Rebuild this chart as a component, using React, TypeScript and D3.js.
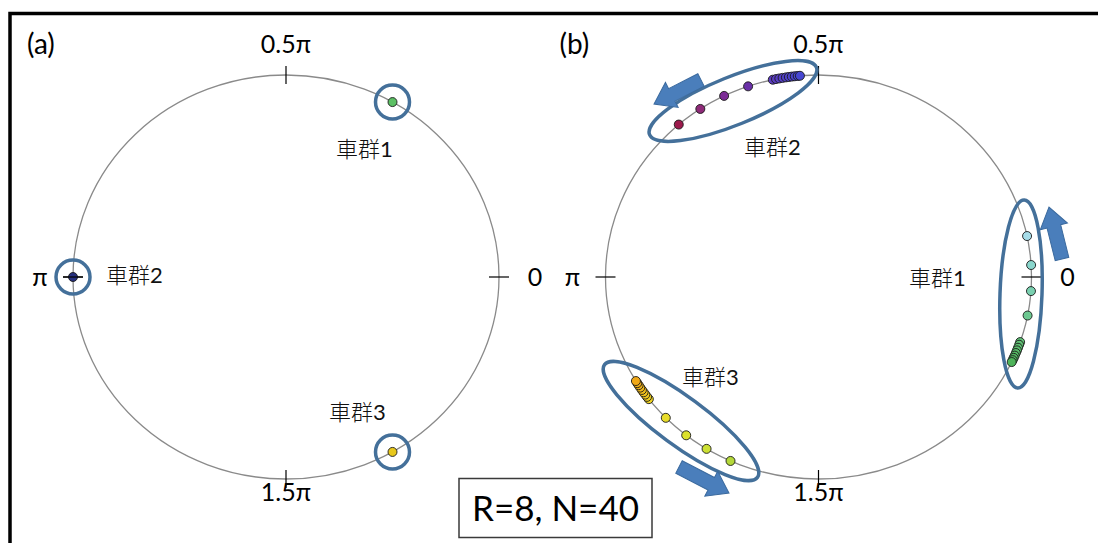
import * as d3 from 'd3';
import { useEffect, useRef } from 'react';

// tick angles (units of pi) and their labels
const tickAngles = [0, 0.5, 1, 1.5];
const tickLabels = ['0', '0.5π', 'π', '1.5π'];

const groupNames = ['車群1', '車群2', '車群3'];

// (a) initial state: one car group at each angle (units of pi)
const initAngles = [1 / 3, 1, 5 / 3];
const initColors = ['#5cc064', '#26307e', '#e8c81c'];

// (b) car positions in degrees, leading car first
const group1Deg = [11.7, 3.4, -4, -11, -18.8, -19.6, -20.5, -21.3, -22.1, -22.9, -23.6, -24.3, -24.9];
const group2Deg = [131, 123.7, 116.3, 109.3, 102.4, 101.5, 100.6, 99.7, 98.8, 98, 97.2, 96.4, 95.6, 95];
const group3Deg = [245.6, 238.3, 231.6, 224.2, 217.2, 216.4, 215.6, 214.8, 214, 213.2, 212.4, 211.7, 211];

const group1Spread = ['#a6dce8', '#8ad6cc', '#7ad0b0', '#6cc890'];
const group2Spread = ['#9c1a4c', '#8e2a78', '#7c2c96', '#6a30a8'];
const group3Spread = ['#b4d83a', '#cce034', '#dce02c', '#e8dc2a'];
const clusterEnds = [['#62c278', '#4eb45a'], ['#5c3cc0', '#4646d2'], ['#f0d420', '#f0a818']];

const noteText = 'R=8, N=40';

const FONT = 'Lato, "Open Sans", sans-serif';
const CJK = '"Noto Sans CJK JP", sans-serif';
const RING = '#44709a';

export default function App() {
  const svgRef = useRef<SVGSVGElement>(null);

  useEffect(() => {
    drawChart(svgRef.current!);
  }, [svgRef]);

  return (
    <div style={{ position: 'absolute', left: 0, top: 0 }}>
      <svg ref={svgRef}></svg>
    </div>
  );
}

function drawChart(el: SVGSVGElement) {
  const w = 1098;
  const h = 543;
  const svg = d3.select(el).attr('width', w).attr('height', h);
  svg.selectAll('*').remove();
  svg.append('rect').attr('width', w).attr('height', h).attr('fill', '#fff');

  // outer frame
  svg.append('rect')
    .attr('x', 10).attr('y', 13.5).attr('width', 1100).attr('height', 600)
    .attr('fill', 'none').attr('stroke', '#000').attr('stroke-width', 3.5);

  const cy = 277, rx = 213, ry = 202;

  const panel = (cx: number, tag: string) => {
    const x = d3.scaleLinear().domain([-1, 1]).range([cx - rx, cx + rx]);
    const y = d3.scaleLinear().domain([-1, 1]).range([cy + ry, cy - ry]);
    const g = svg.append('g');

    g.append('ellipse')
      .attr('cx', x(0)).attr('cy', y(0)).attr('rx', rx).attr('ry', ry)
      .attr('fill', 'none').attr('stroke', '#8a8a8a').attr('stroke-width', 1.3);

    tickAngles.forEach((a, i) => {
      const px = x(Math.cos(a * Math.PI));
      const py = y(Math.sin(a * Math.PI));
      const vertical = i % 2 === 1;
      g.append('line')
        .attr('x1', vertical ? px : px - 10).attr('x2', vertical ? px : px + 10)
        .attr('y1', vertical ? py - 9 : py).attr('y2', vertical ? py + 9 : py)
        .attr('stroke', '#000').attr('stroke-width', 1.2);
      const lx = i === 0 ? px + 36 : i === 2 ? px - 33 : px;
      const ly = i === 1 ? py - 22 : i === 3 ? py + 22 : py + 9;
      g.append('text')
        .attr('x', lx).attr('y', ly).attr('text-anchor', 'middle')
        .attr('font-family', FONT).attr('font-size', 25).attr('fill', '#000')
        .text(tickLabels[i]);
    });

    g.append('text')
      .attr('x', cx - 259).attr('y', 54)
      .attr('font-family', FONT).attr('font-size', 28).attr('fill', '#000')
      .text(tag);

    return { g, x, y };
  };

  const groupLabel = (g: any, px: number, py: number, name: string) => {
    const t = g.append('text').attr('x', px).attr('y', py).attr('fill', '#111');
    t.append('tspan').attr('font-family', CJK).attr('font-weight', 300).attr('font-size', 22)
      .text(name.slice(0, 2));
    t.append('tspan').attr('font-family', FONT).attr('font-size', 22).text(name.slice(2));
  };

  const dot = (g: any, px: number, py: number, color: string) => {
    g.append('circle')
      .attr('cx', px).attr('cy', py).attr('r', 4.5)
      .attr('fill', color).attr('stroke', '#1a1a1a').attr('stroke-width', 0.9);
  };

  // ---- (a)
  const A = panel(286, '(a)');
  initAngles.forEach((a, i) => {
    const px = A.x(Math.cos(a * Math.PI));
    const py = A.y(Math.sin(a * Math.PI));
    dot(A.g, px, py, initColors[i]);
    A.g.append('circle')
      .attr('cx', px).attr('cy', py).attr('r', 17)
      .attr('fill', 'none').attr('stroke', RING).attr('stroke-width', 3.5);
  });
  A.g.append('line').attr('x1', A.x(-1) - 10).attr('x2', A.x(-1) + 10)
    .attr('y1', cy).attr('y2', cy).attr('stroke', '#000').attr('stroke-width', 1.2);
  groupLabel(A.g, 336, 157, groupNames[0]);
  groupLabel(A.g, 106, 283, groupNames[1]);
  groupLabel(A.g, 329, 420, groupNames[2]);

  // ---- (b)
  const B = panel(818.5, '(b)');
  const groups = [
    { deg: group1Deg, spread: group1Spread, ends: clusterEnds[0] },
    { deg: group2Deg, spread: group2Spread, ends: clusterEnds[1] },
    { deg: group3Deg, spread: group3Spread, ends: clusterEnds[2] },
  ];
  groups.forEach(gr => {
    const nCluster = gr.deg.length - gr.spread.length;
    const interp = d3.interpolateRgb(gr.ends[0], gr.ends[1]);
    gr.deg.forEach((d, i) => {
      const rad = (d * Math.PI) / 180;
      const c = i < gr.spread.length ? gr.spread[i] : interp((i - gr.spread.length) / Math.max(1, nCluster - 1));
      dot(B.g, B.x(Math.cos(rad)), B.y(Math.sin(rad)), c);
    });
  });

  // ellipses around groups
  const ringEllipses = [
    { cx: 1021, cy: 294, rx: 21, ry: 94, rot: 2 },
    { cx: 733, cy: 101, rx: 90, ry: 24, rot: -22 },
    { cx: 681, cy: 421, rx: 95, ry: 24, rot: 36.4 },
  ];
  ringEllipses.forEach(e => {
    B.g.append('ellipse')
      .attr('transform', `translate(${e.cx},${e.cy}) rotate(${e.rot})`)
      .attr('rx', e.rx).attr('ry', e.ry)
      .attr('fill', 'none').attr('stroke', RING).attr('stroke-width', 3.5);
  });

  // block arrows showing the direction of travel
  const arrowShape = (L: number) => {
    const bw = 7, hw = 14, hl = 20;
    return d3.line()([[0, -bw], [L - hl, -bw], [L - hl, -hw], [L, 0], [L - hl, hw], [L - hl, bw], [0, bw]]) + 'Z';
  };
  const arrows = [
    { x: 1062, y: 259, x2: 1049, y2: 207 },
    { x: 701, y: 80, x2: 654, y2: 104 },
    { x: 679, y: 467, x2: 729, y2: 493 },
  ];
  arrows.forEach(a => {
    const L = Math.hypot(a.x2 - a.x, a.y2 - a.y);
    const ang = (Math.atan2(a.y2 - a.y, a.x2 - a.x) * 180) / Math.PI;
    B.g.append('path')
      .attr('d', arrowShape(L))
      .attr('transform', `translate(${a.x},${a.y}) rotate(${ang})`)
      .attr('fill', '#4a7ebb').attr('stroke', '#3b6a9e').attr('stroke-width', 1);
  });

  groupLabel(B.g, 744, 155, groupNames[1]);
  groupLabel(B.g, 909, 286, groupNames[0]);
  groupLabel(B.g, 682, 385, groupNames[2]);

  // parameter box
  svg.append('rect')
    .attr('x', 459).attr('y', 478.5).attr('width', 193).attr('height', 59)
    .attr('fill', '#fff').attr('stroke', '#3a3a3a').attr('stroke-width', 1.5);
  svg.append('text')
    .attr('x', 555.5).attr('y', 521).attr('text-anchor', 'middle')
    .attr('font-family', FONT).attr('font-size', 35).attr('fill', '#000')
    .text(noteText);
}
